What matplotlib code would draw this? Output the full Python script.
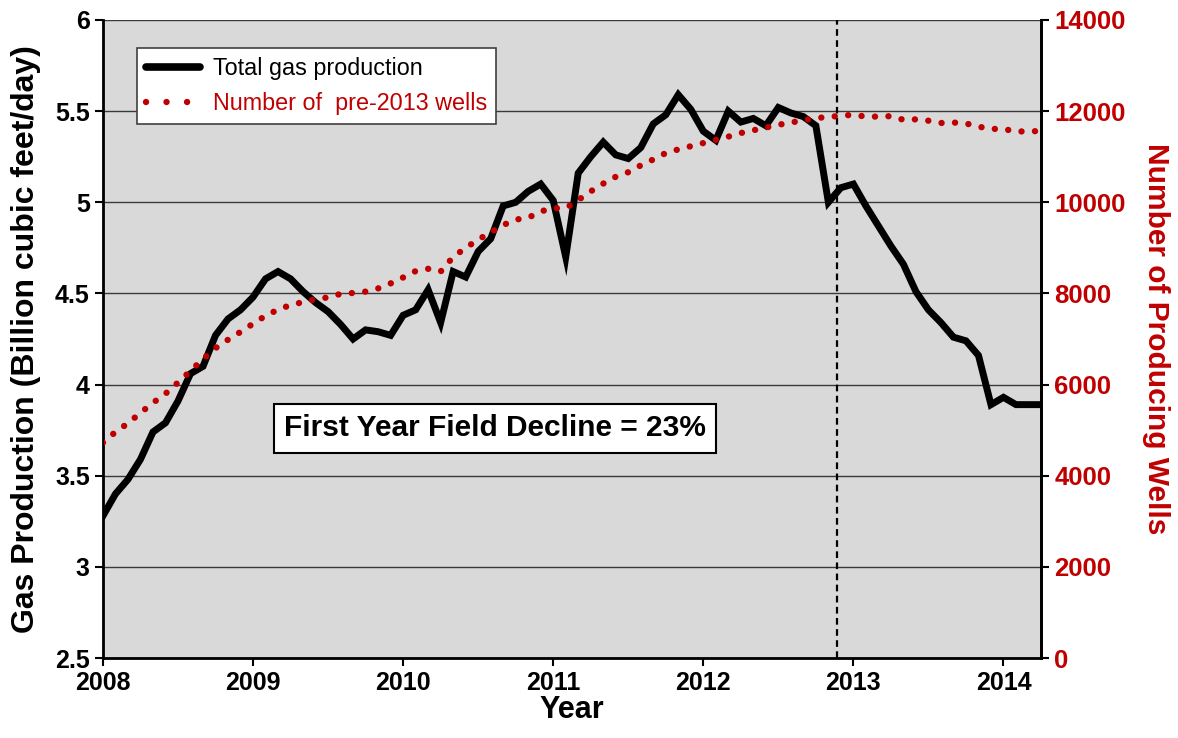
import numpy as np
import matplotlib
matplotlib.use("Agg")
import matplotlib.pyplot as plt
from matplotlib.lines import Line2D

plt.rcParams['font.family'] = ['Liberation Sans', 'DejaVu Sans']

# monthly data, Jan 2008 .. Apr 2014
start_year = 2008
gas_bcfd = [3.28, 3.40, 3.48, 3.59, 3.74, 3.79, 3.91, 4.06, 4.10, 4.27, 4.36, 4.41,
            4.48, 4.58, 4.62, 4.58, 4.51, 4.45, 4.40, 4.33, 4.25, 4.30, 4.29, 4.27,
            4.38, 4.41, 4.52, 4.34, 4.62, 4.59, 4.73, 4.80, 4.98, 5.00, 5.06, 5.10,
            5.01, 4.70, 5.16, 5.25, 5.33, 5.26, 5.24, 5.30, 5.43, 5.48, 5.59, 5.51,
            5.39, 5.34, 5.50, 5.44, 5.46, 5.42, 5.52, 5.49, 5.47, 5.42, 5.00, 5.08,
            5.10, 4.98, 4.87, 4.76, 4.66, 4.51, 4.41, 4.34, 4.26, 4.24, 4.16, 3.89,
            3.93, 3.89, 3.89, 3.89]
wells = [4725, 4960, 5150, 5380, 5600, 5800, 6045, 6300, 6560, 6800, 6985, 7155,
         7335, 7510, 7645, 7745, 7810, 7875, 7912, 7990, 8010, 8040, 8110, 8220,
         8350, 8490, 8540, 8480, 8800, 9000, 9180, 9340, 9500, 9620, 9660, 9800,
         9870, 9870, 10050, 10240, 10410, 10560, 10660, 10810, 10940, 11080, 11160, 11230,
         11300, 11370, 11440, 11520, 11580, 11640, 11700, 11750, 11800, 11850, 11870, 11900,
         11920, 11880, 11880, 11890, 11810, 11820, 11790, 11740, 11750, 11730, 11660, 11610,
         11610, 11550, 11560, 11560]
years = [2008, 2009, 2010, 2011, 2012, 2013, 2014]
cutoff = 2012.889  # start of 2013 wells cohort (dashed line)

t = start_year + np.arange(len(gas_bcfd)) / 12.0

red = '#C00000'
dots = (0, (0.01, 2.1))

fig = plt.figure(figsize=(11.78, 7.38), dpi=100)
ax = fig.add_axes([0.0874, 0.1084, 0.7963, 0.8645])
ax.set_facecolor('#D9D9D9')

ax.plot(t, gas_bcfd, color='black', lw=5, solid_joinstyle='miter', zorder=3)
ax.axvline(cutoff, color='black', lw=1.6, ls=(0, (3, 2)), zorder=2)

ax.set_xlim(2008, 2014.25)
ax.set_ylim(2.5, 6)
ax.set_yticks(np.arange(2.5, 6.01, 0.5))
ax.set_yticklabels(['2.5', '3', '3.5', '4', '4.5', '5', '5.5', '6'])
ax.set_xticks(years)
ax.set_xticklabels([str(y) for y in years])
ax.yaxis.grid(True, color='#3a3a3a', lw=1)
ax.set_axisbelow(True)

for s in ['left', 'bottom', 'right']:
    ax.spines[s].set_linewidth(2)
ax.spines['top'].set_visible(False)
ax.tick_params(axis='both', direction='out', length=6, width=1.5,
               labelsize=18)
for lab in ax.get_xticklabels() + ax.get_yticklabels():
    lab.set_fontweight('bold')

ax.set_xlabel('Year', fontsize=22, fontweight='bold', labelpad=0)
ax.set_ylabel('Gas Production (Billion cubic feet/day)', fontsize=23,
              fontweight='bold', labelpad=10)

# right axis: wells
ax2 = ax.twinx()
ax2.plot(t, wells, color=red, lw=4.6, ls=dots, dash_capstyle='round')
ax2.set_ylim(0, 14000)
ax2.set_yticks(np.arange(0, 14001, 2000))
ax2.spines['right'].set_linewidth(2)
ax2.spines['top'].set_visible(False)
ax2.tick_params(axis='y', direction='out', length=6, width=1.5,
                labelsize=18.5, labelcolor=red)
for lab in ax2.get_yticklabels():
    lab.set_fontweight('bold')
ax2.set_ylabel('Number of Producing Wells', fontsize=21.5, fontweight='bold',
               color=red, rotation=270, labelpad=32)

# legend
h1 = Line2D([], [], color='black', lw=5.5, solid_capstyle='round')
h2 = Line2D([], [], color=red, lw=4.6, ls=(0, (0.01, 3.2)), dash_capstyle='round')
leg = ax2.legend([h1, h2], ['Total gas production', 'Number of  pre-2013 wells'],
                 loc='upper left', bbox_to_anchor=(0.036, 0.956), fontsize=16.8,
                 frameon=True, fancybox=False, framealpha=1, edgecolor='#404040',
                 handlelength=2.3, borderpad=0.4, labelspacing=0.5,
                 handletextpad=0.55, borderaxespad=0)
leg.get_frame().set_linewidth(1.2)
leg.get_texts()[1].set_color(red)

ax2.text(0.418, 0.36, 'First Year Field Decline = 23%', transform=ax2.transAxes,
         ha='center', va='center', fontsize=21.5, fontweight='bold', zorder=6,
         bbox=dict(boxstyle='square,pad=0.35', fc='white', ec='black', lw=1.5))

fig.savefig('out.png', dpi=100)
